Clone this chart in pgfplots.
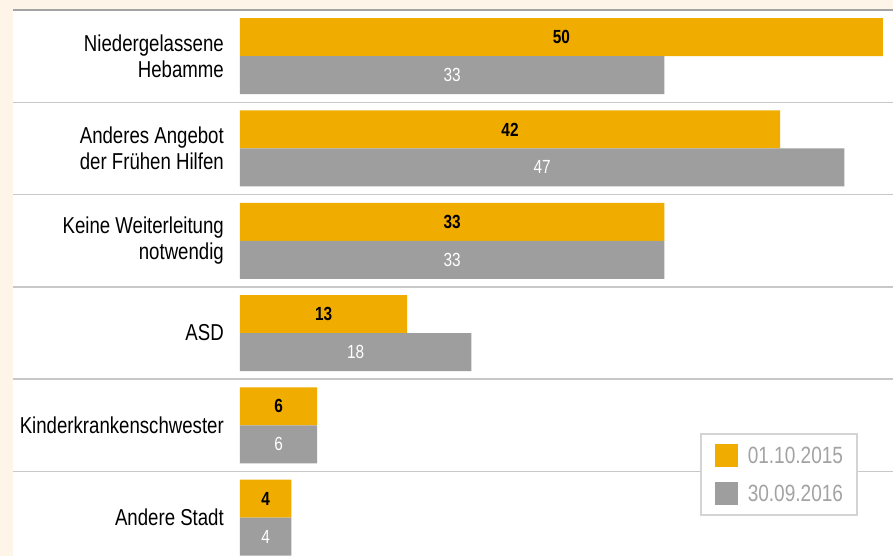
\documentclass[border=0pt]{standalone}
\usepackage{pgfplots}
\usepackage{pgfplotstable}
\pgfplotsset{compat=1.18}
\usepackage{fontspec}
\setmainfont{Liberation Sans}[FakeStretch=0.81]
\definecolor{orangeC}{HTML}{F0AD00}
\definecolor{grayC}{HTML}{9D9E9D}
\definecolor{peach}{HTML}{FEF5E8}
\definecolor{sepgray}{HTML}{C8C8C8}
\definecolor{topgray}{HTML}{A3A3A3}
\definecolor{legbox}{HTML}{D4D4D4}
\definecolor{legtext}{HTML}{A3A3A3}
\pgfplotstableread{
pos a b
0 50 33
1 42 47
2 33 33
3 13 18
4 6 6
5 4 4
}\data
\begin{document}
\begin{tikzpicture}
\useasboundingbox (0,0) rectangle (893pt,556pt);
\fill[peach] (0,0) rectangle (893pt,556pt);
\fill[white] (13pt,0) rectangle (893pt,546pt);
\begin{axis}[
  at={(13pt,0pt)}, anchor=south west,
  scale only axis, width=880pt, height=546pt,
  xmin=-17.65, xmax=50.78, ymin=-0.5, ymax=5.415, y dir=reverse,
  axis line style={draw=none},
  xtick=\empty,
  ytick={0,1,2,3,4,5},
  yticklabels={{Niedergelassene\\Hebamme},{Anderes Angebot\\der Frühen Hilfen},{Keine Weiterleitung\\notwendig},{ASD},{Kinderkrankenschwester},{Andere Stadt}},
  yticklabel style={align=right, anchor=east, inner sep=0pt, xshift=211pt, font=\fontsize{23}{26}\selectfont},
  major tick length=0pt,
  extra y ticks={0.5,1.5,2.5,3.5,4.5},
  extra y tick labels={},
  extra y tick style={grid=major, major grid style={line width=1.5pt, draw=sepgray}},
  /pgf/number format/assume math mode=true,
  legend style={at={(0.7807,0.0733)}, anchor=south west, draw=legbox, line width=1.5pt, fill=white,
    inner xsep=14pt, inner ysep=10pt, row sep=15pt,
    font=\fontsize{23.5}{26}\selectfont\color{legtext}, nodes={inner sep=0pt, text=legtext}},
  legend cell align=left,
  legend image code/.code={\fill[#1,draw=none] (0pt,-11.5pt) rectangle (23pt,11.5pt);\path (33pt,0pt);},
]
\addplot[xbar, bar width=0.4117, bar shift=-0.2058, fill=orangeC, draw=none,
  nodes near coords, point meta=x,
  visualization depends on={\thisrow{a} \as \v},
  every node near coord/.append style={anchor=center, xshift={-6.43pt*\v}, yshift=19pt, text=black, font=\fontsize{19}{19}\selectfont\bfseries}]
  table[x=a, y=pos] {\data};
\addlegendentry{01.10.2015}
\addplot[xbar, bar width=0.4117, bar shift=0.2058, fill=grayC, draw=none,
  nodes near coords, point meta=x,
  visualization depends on={\thisrow{b} \as \v},
  every node near coord/.append style={anchor=center, xshift={-6.43pt*\v}, yshift=-19pt, text=white, font=\fontsize{19}{19}\selectfont}]
  table[x=b, y=pos] {\data};
\addlegendentry{30.09.2016}
\end{axis}
\draw[topgray, line width=2pt] (13pt,546pt) -- (893pt,546pt);
\end{tikzpicture}
\end{document}
